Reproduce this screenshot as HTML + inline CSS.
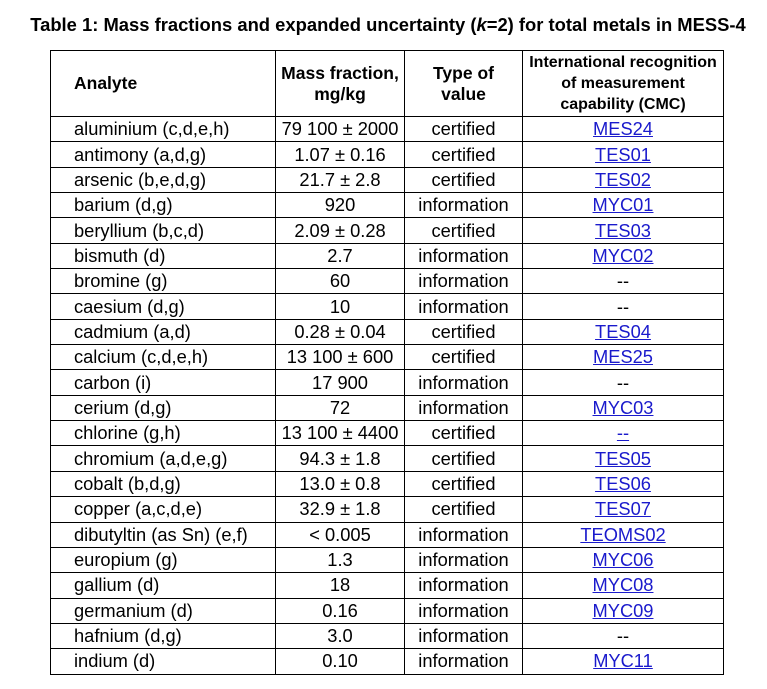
<!DOCTYPE html>
<html><head><style>
body{margin:0;background:#fff;width:767px;height:689px;overflow:hidden;font-family:"Liberation Sans",Arial,sans-serif;color:#000}
.t{position:absolute;left:0;top:14px;width:776px;text-align:center;font-weight:bold;font-size:18.4px;white-space:nowrap}
table{position:absolute;left:50px;top:50px;border-collapse:collapse;font-size:18.3px}
td{border:1.5px solid #000;padding:0;height:24.35px;line-height:22px;text-align:center;white-space:nowrap}
td:first-child{text-align:left;padding-left:23px}
th{border:1.5px solid #000;font-size:17.5px;font-weight:bold;line-height:21px;height:65px;padding:0;white-space:nowrap}
th:first-child{text-align:left;padding-left:23px}
a{color:#1a1acc;text-decoration:underline}
</style></head><body>
<div class="t">Table 1: Mass fractions and expanded uncertainty (<i>k</i>=2) for total metals in MESS-4</div>
<table>
<colgroup><col style="width:225px"><col style="width:129px"><col style="width:118px"><col style="width:201px"></colgroup>
<tr><th>Analyte</th><th>Mass fraction,<br>mg/kg</th><th>Type of<br>value</th><th style="font-size:16px;line-height:21px">International recognition<br>of measurement<br>capability (CMC)</th></tr>
<tr><td>aluminium (c,d,e,h)</td><td>79 100 ± 2000</td><td>certified</td><td><a>MES24</a></td></tr>
<tr><td>antimony (a,d,g)</td><td>1.07 ± 0.16</td><td>certified</td><td><a>TES01</a></td></tr>
<tr><td>arsenic (b,e,d,g)</td><td>21.7 ± 2.8</td><td>certified</td><td><a>TES02</a></td></tr>
<tr><td>barium (d,g)</td><td>920</td><td>information</td><td><a>MYC01</a></td></tr>
<tr><td>beryllium (b,c,d)</td><td>2.09 ± 0.28</td><td>certified</td><td><a>TES03</a></td></tr>
<tr><td>bismuth (d)</td><td>2.7</td><td>information</td><td><a>MYC02</a></td></tr>
<tr><td>bromine (g)</td><td>60</td><td>information</td><td>--</td></tr>
<tr><td>caesium (d,g)</td><td>10</td><td>information</td><td>--</td></tr>
<tr><td>cadmium (a,d)</td><td>0.28 ± 0.04</td><td>certified</td><td><a>TES04</a></td></tr>
<tr><td>calcium (c,d,e,h)</td><td>13 100 ± 600</td><td>certified</td><td><a>MES25</a></td></tr>
<tr><td>carbon (i)</td><td>17 900</td><td>information</td><td>--</td></tr>
<tr><td>cerium (d,g)</td><td>72</td><td>information</td><td><a>MYC03</a></td></tr>
<tr><td>chlorine (g,h)</td><td>13 100 ± 4400</td><td>certified</td><td><a>--</a></td></tr>
<tr><td>chromium (a,d,e,g)</td><td>94.3 ± 1.8</td><td>certified</td><td><a>TES05</a></td></tr>
<tr><td>cobalt (b,d,g)</td><td>13.0 ± 0.8</td><td>certified</td><td><a>TES06</a></td></tr>
<tr><td>copper (a,c,d,e)</td><td>32.9 ± 1.8</td><td>certified</td><td><a>TES07</a></td></tr>
<tr><td>dibutyltin (as Sn) (e,f)</td><td>&lt; 0.005</td><td>information</td><td><a>TEOMS02</a></td></tr>
<tr><td>europium (g)</td><td>1.3</td><td>information</td><td><a>MYC06</a></td></tr>
<tr><td>gallium (d)</td><td>18</td><td>information</td><td><a>MYC08</a></td></tr>
<tr><td>germanium (d)</td><td>0.16</td><td>information</td><td><a>MYC09</a></td></tr>
<tr><td>hafnium (d,g)</td><td>3.0</td><td>information</td><td>--</td></tr>
<tr><td>indium (d)</td><td>0.10</td><td>information</td><td><a>MYC11</a></td></tr>
</table>
</body></html>
